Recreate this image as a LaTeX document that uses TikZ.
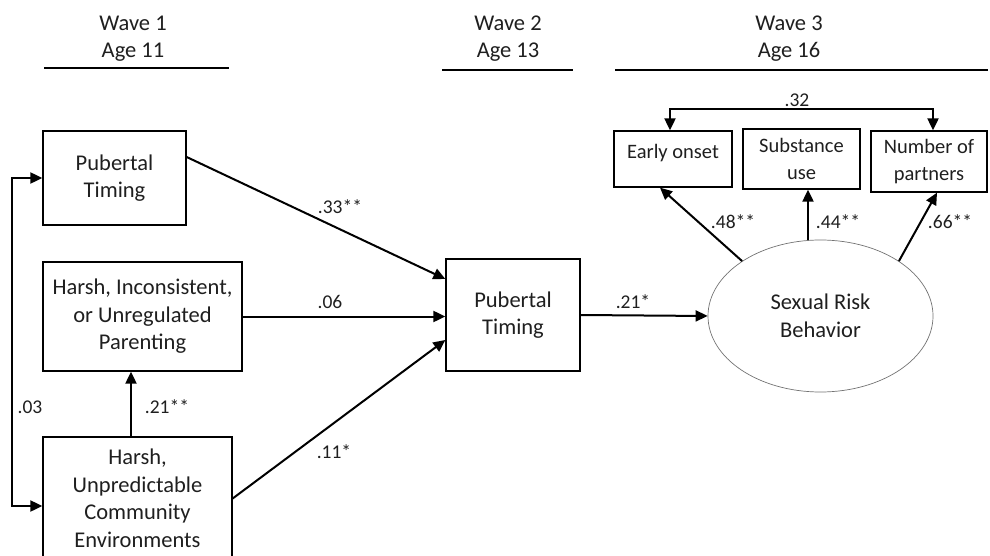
\documentclass[tikz,border=0pt]{standalone}
\usepackage{fontspec}
\setmainfont{Carlito}
\usetikzlibrary{
  arrows.meta,      % Triangle 箭头
  calc,             % 坐标计算
  positioning,      % 节点相对定位
  shapes.geometric  % 椭圆节点
}

\tikzset{
  box/.style={draw, line width=1.3pt, align=center, inner sep=0pt,
    font=\fontsize{22.5}{27.5}\selectfont},
  smallbox/.style={box, font=\fontsize{20.5}{27}\selectfont},
  head/.style={align=center, font=\fontsize{22.5}{27.5}\selectfont},
  coef/.style={inner sep=0pt, font=\fontsize{19.5}{22}\selectfont},
  rule/.style={line width=2.6pt},
  arr/.style={line width=2pt, -{Triangle[length=12pt,width=11pt]}},
  arrboth/.style={line width=2pt, {Triangle[length=12pt,width=11pt]}-{Triangle[length=12pt,width=11pt]}}
}

\begin{document}
\begin{tikzpicture}[x=1pt, y=-1pt, text=black!88]
  \useasboundingbox (0,0) rectangle (990,556);

  % === 时间点标题 ===
  \node[head] (w1) at (133, 38.5) {Wave 1\\Age 11};
  \node[head] (w2) at (508, 38.5) {Wave 2\\Age 13};
  \node[head] (w3) at (789, 38.5) {Wave 3\\Age 16};
  \draw[rule] (44, 68) -- (229, 68);
  \draw[rule] (442, 70) -- (573, 70);
  \draw[rule] (615, 70) -- (988, 70);

  % === 第一波变量 ===
  \node[box, minimum width=143pt, minimum height=94pt] (pt1) at (114.5, 178) {Pubertal\\Timing};
  \node[box, minimum width=199pt, minimum height=109pt] (hip) at (142.5, 316.5)
    {Harsh, Inconsistent,\\or Unregulated\\Parenting};
  \node[box, minimum width=189pt, minimum height=123pt] (hue) at (137.5, 498.5)
    {Harsh,\\Unpredictable\\Community\\Environments};

  % === 第二波与第三波变量 ===
  \node[box, minimum width=134pt, minimum height=112pt] (pt2) at (513, 315) {Pubertal\\Timing};
  \node[ellipse, draw=black!55, line width=0.7pt, inner sep=0pt, align=center,
    minimum width=225pt, minimum height=152pt,
    font=\fontsize{22.5}{27.5}\selectfont] (srb) at (820.5, 316) {Sexual Risk\\Behavior};

  % 指标变量（单行文字靠上）
  \node[smallbox, minimum width=118pt, minimum height=56pt, text height=15pt, text depth=15pt]
    (eo) at (673, 159) {Early onset};
  \node[smallbox, minimum width=117pt, minimum height=60pt] (su) at (801.5, 159) {Substance\\use};
  \node[smallbox, minimum width=116pt, minimum height=61pt] (np) at (929, 161.5) {Number of\\partners};

  % === 路径 ===
  \draw[arr] ($(pt1.east)+(0,-21)$) -- ($(pt2.west)+(0,-36)$);
  \draw[arr] (hip.east) -- (hip.east -| pt2.west);
  \draw[arr] (hue.east) -- ($(pt2.west)+(0,25)$);
  \coordinate (hueup) at ($(hue.north)+(-6.5,0)$);
  \draw[arr] (hueup) -- (hueup |- hip.south);
  \draw[arr] (pt2.east) -- (srb.west);

  % 潜变量到指标
  \coordinate (sutop) at ($(su.south)+(6.5,0)$);
  \draw[arr] (srb.145) -- ($(eo.south)+(-13,0)$);
  \draw[arr] (srb.north -| sutop) -- (sutop);
  \draw[arr] (srb.35) -- ($(np.south)+(8,0)$);

  % 相关（双箭头）
  \draw[arrboth] ($(eo.north)+(-3,0)$) -- ++(0,-21) -| ($(np.north)+(4,0)$);
  \draw[arrboth] (pt1.west) -- ++(-30,0) |- ($(hue.west)+(0,7.5)$);

  % === 系数标签 ===
  \node[coef] (c33) at (340, 207) {.33**};
  \node[coef] (c06) at (330, 302) {.06};
  \node[coef] (c11) at (334, 452) {.11*};
  \node[coef] (c21a) at (167, 407) {.21**};
  \node[coef] (c03) at (30, 407) {.03};
  \node[coef] (c21b) at (633, 302) {.21*};
  \node[coef] (c48) at (733, 222) {.48**};
  \node[coef] (c44) at (838, 222) {.44**};
  \node[coef] (c66) at (950, 222) {.66**};
  \node[coef] (c32) at (797, 100) {.32};
\end{tikzpicture}
\end{document}
